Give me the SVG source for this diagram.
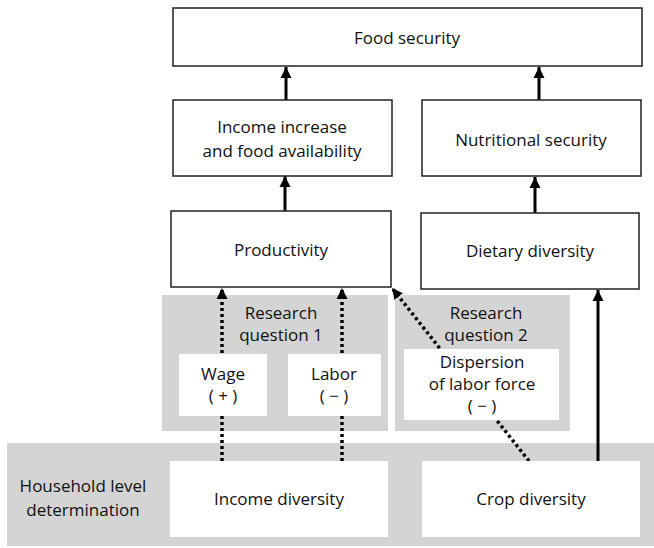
<svg xmlns="http://www.w3.org/2000/svg" width="654" height="548" viewBox="0 0 654 548">
<defs>
<style>
.box{fill:#fff;stroke:#222;stroke-width:1.5}
.wbox{fill:#fff;stroke:none}
.gray{fill:#d4d4d4;stroke:none}
text{font-family:"Open Sans","Noto Sans","DejaVu Sans",sans-serif;font-size:17px;fill:#111;text-anchor:middle}
.solid{stroke:#000;stroke-width:3;fill:none}
.dot{stroke:#000;stroke-width:3.5;fill:none;stroke-dasharray:3 3}
</style>
<marker id="ah" markerUnits="userSpaceOnUse" markerWidth="12" markerHeight="12" refX="11" refY="6" orient="auto">
<path d="M0,0.5 L11,6 L0,11.5 z" fill="#000"/>
</marker>
</defs>
<rect width="654" height="548" fill="#fff"/>
<g id="bands">
<rect class="gray" x="7" y="443" width="647" height="103"/>
<rect class="gray" x="162" y="295" width="226" height="136"/>
<rect class="gray" x="395" y="295" width="175" height="136"/>
</g>
<g id="rq1-label"><text x="281" y="319">Research</text><text x="281" y="341">question 1</text></g>
<g id="rq2-label"><text x="486" y="319">Research</text><text x="486" y="341">question 2</text></g>
<g id="household-label"><text x="83" y="492">Household level</text><text x="83" y="516">determination</text></g>
<g id="connectors">
<line class="solid" x1="286" y1="100" x2="286" y2="67" marker-end="url(#ah)"/>
<line class="solid" x1="539" y1="100" x2="539" y2="67" marker-end="url(#ah)"/>
<line class="solid" x1="285" y1="211" x2="285" y2="176" marker-end="url(#ah)"/>
<line class="solid" x1="535" y1="213" x2="535" y2="177" marker-end="url(#ah)"/>
<line class="solid" x1="598" y1="461" x2="598" y2="290" marker-end="url(#ah)"/>
<line class="dot" x1="222" y1="461" x2="222" y2="288" marker-end="url(#ah)"/>
<line class="dot" x1="342" y1="461" x2="342" y2="288" marker-end="url(#ah)"/>
<line class="dot" x1="529" y1="461" x2="392" y2="288" marker-end="url(#ah)"/>
</g>
<g id="food-security"><rect class="box" x="173" y="8" width="469" height="58"/><text x="407" y="44">Food security</text></g>
<g id="income-increase"><rect class="box" x="173" y="100" width="219" height="76"/><text x="282" y="133">Income increase</text><text x="282" y="157">and food availability</text></g>
<g id="nutritional-security"><rect class="box" x="422" y="100" width="219" height="76"/><text x="531" y="146">Nutritional security</text></g>
<g id="productivity"><rect class="box" x="171" y="211" width="220" height="76"/><text x="281" y="256">Productivity</text></g>
<g id="dietary-diversity"><rect class="box" x="421" y="213" width="218" height="76"/><text x="530" y="257">Dietary diversity</text></g>
<g id="wage"><rect class="wbox" x="179" y="354" width="88" height="62"/><text x="223" y="380">Wage</text><text x="223" y="402">( + )</text></g>
<g id="labor"><rect class="wbox" x="288" y="354" width="93" height="62"/><text x="334" y="380">Labor</text><text x="334" y="402">( − )</text></g>
<g id="dispersion"><rect class="wbox" x="404" y="349" width="155" height="71"/><text x="482" y="368">Dispersion</text><text x="482" y="390">of labor force</text><text x="482" y="412">( − )</text></g>
<g id="income-diversity"><rect class="wbox" x="170" y="461" width="218" height="76"/><text x="279" y="505">Income diversity</text></g>
<g id="crop-diversity"><rect class="wbox" x="422" y="461" width="218" height="76"/><text x="531" y="505">Crop diversity</text></g>
</svg>
